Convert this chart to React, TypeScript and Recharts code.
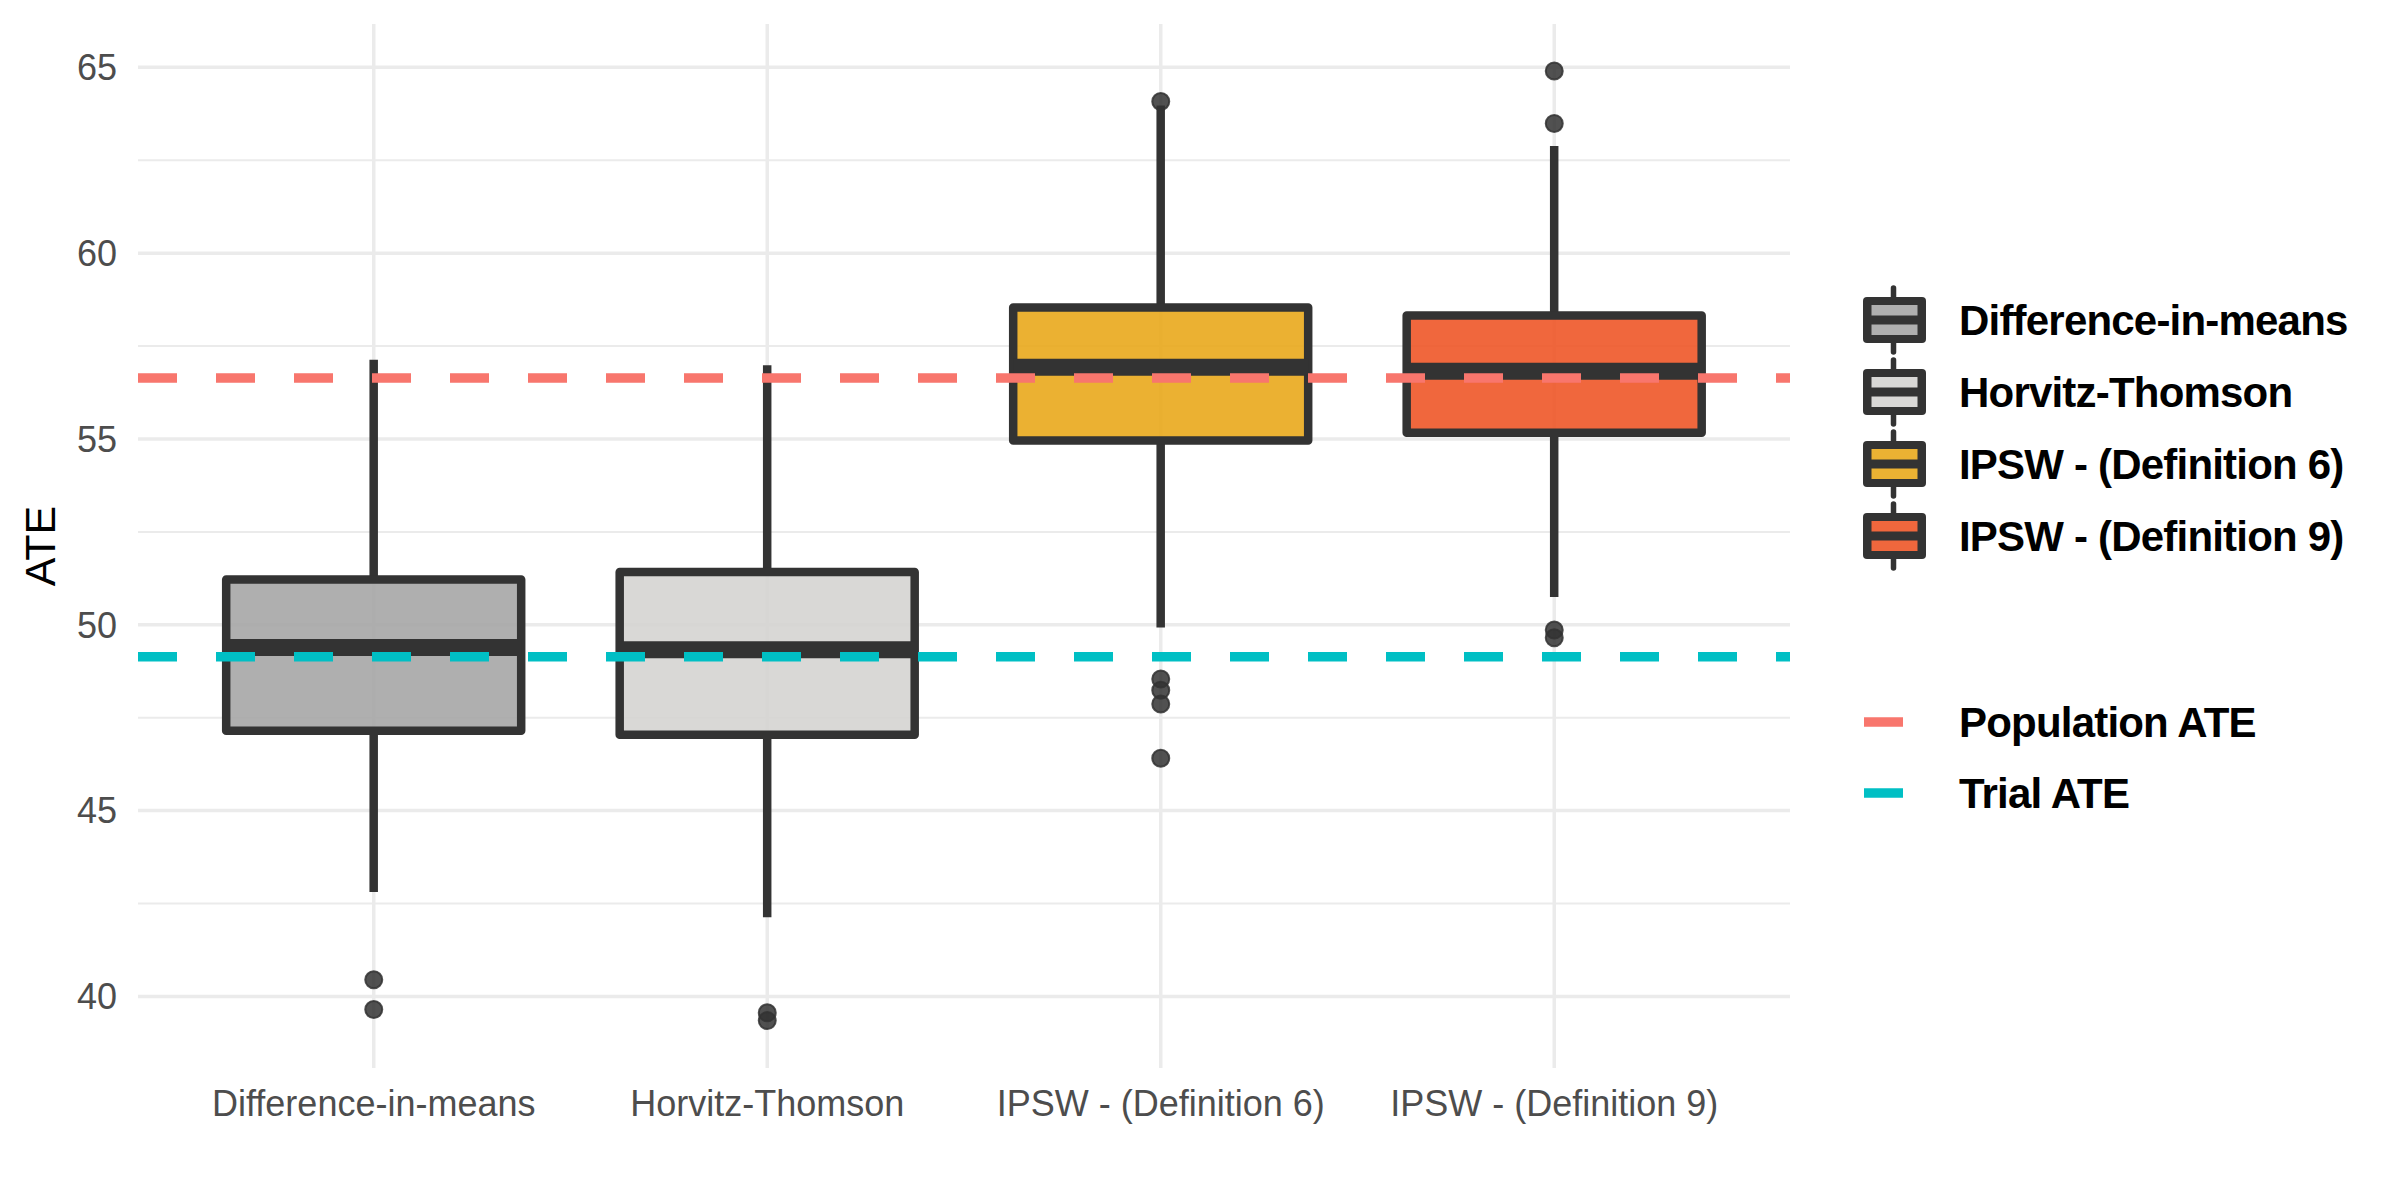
import React from 'react';
import {
  ComposedChart,
  Bar,
  Scatter,
  XAxis,
  YAxis,
  CartesianGrid,
  ReferenceLine,
  Legend,
} from 'recharts';

// ---------- data ----------
const categories = [
  'Difference-in-means',
  'Horvitz-Thomson',
  'IPSW - (Definition 6)',
  'IPSW - (Definition 9)',
];
const whiskerLow = [42.81, 42.13, 49.93, 50.75];
const q1Values = [47.15, 47.04, 54.96, 55.17];
const medianValues = [49.39, 49.33, 56.93, 56.82];
const q3Values = [51.22, 51.42, 58.54, 58.32];
const whiskerHigh = [57.13, 56.98, 63.97, 62.88];
const outlierValues = [
  [40.45, 39.65],
  [39.56, 39.35],
  [64.08, 48.54, 48.24, 47.87, 46.41],
  [64.9, 63.49, 49.86, 49.65],
];
const fillColors = ['#A6A6A6', '#D5D4D2', '#E9A91C', '#EE5628'];
const legendFillColors = ['#AFAFAF', '#D9D8D6', '#EBB233', '#F0673D'];
const populationATE = 56.64;
const trialATE = 49.14;
const yMajorTicks = [40, 45, 50, 55, 60, 65];
const yMinorTicks = [42.5, 47.5, 52.5, 57.5, 62.5];
const yDomain: [number, number] = [38.075, 66.165];
const refLines = [
  { label: 'Population ATE', color: '#F8766D', value: populationATE },
  { label: 'Trial ATE', color: '#00BFC4', value: trialATE },
];

const boxData = categories.map((name, i) => ({
  name,
  range: [whiskerLow[i], whiskerHigh[i]],
  lo: whiskerLow[i],
  q1: q1Values[i],
  med: medianValues[i],
  q3: q3Values[i],
  hi: whiskerHigh[i],
  fill: fillColors[i],
}));
const outlierData = categories.flatMap((name, i) =>
  outlierValues[i].map((v) => ({ name, v }))
);

const DARK = '#333333';
const FONT = '"Liberation Sans", Arial, Helvetica, sans-serif';

const BoxShape = (props: any) => {
  const { x, y, width, height, payload } = props;
  if (x == null || y == null || !payload) return null;
  const top = Math.min(y, y + height);
  const bottom = Math.max(y, y + height);
  const ppu = (bottom - top) / (payload.hi - payload.lo);
  const sy = (v: number) => top + (payload.hi - v) * ppu;
  const cx = x + width / 2;
  return (
    <g>
      <line x1={cx} x2={cx} y1={sy(payload.hi)} y2={sy(payload.q3)} stroke={DARK} strokeWidth={8.5} />
      <line x1={cx} x2={cx} y1={sy(payload.q1)} y2={sy(payload.lo)} stroke={DARK} strokeWidth={8.5} />
      <rect
        x={x}
        y={sy(payload.q3)}
        width={width}
        height={sy(payload.q1) - sy(payload.q3)}
        fill={payload.fill}
        fillOpacity={0.9}
        stroke={DARK}
        strokeWidth={8.5}
        strokeLinejoin="round"
      />
      <line x1={x} x2={x + width} y1={sy(payload.med)} y2={sy(payload.med)} stroke={DARK} strokeWidth={17} />
    </g>
  );
};

const OutlierShape = (props: any) => {
  const { cx, cy } = props;
  if (cx == null || cy == null) return null;
  return (
    <circle cx={cx} cy={cy} r={8.5} fill={DARK} fillOpacity={0.85} stroke={DARK} strokeOpacity={0.85} strokeWidth={2} />
  );
};

const LegendContent = () => {
  const boxRows = [60, 132, 204, 276];
  const lineRows = [462, 533];
  return (
    <svg width={550} height={580} style={{ display: 'block', overflow: 'visible' }}>
      {categories.map((c, i) => {
        const cy = boxRows[i];
        return (
          <g key={c}>
            <line x1={43.5} x2={43.5} y1={cy - 32} y2={cy - 20} stroke={DARK} strokeWidth={5.5} strokeLinecap="round" />
            <line x1={43.5} x2={43.5} y1={cy + 20} y2={cy + 32} stroke={DARK} strokeWidth={5.5} strokeLinecap="round" />
            <rect x={13} y={cy - 23} width={63} height={46} rx={4} fill={DARK} />
            <rect x={21.5} y={cy - 15} width={46} height={10.5} fill={legendFillColors[i]} />
            <rect x={21.5} y={cy + 4.5} width={46} height={10.5} fill={legendFillColors[i]} />
            <text x={109} y={cy + 15} fontSize={42} fontWeight="bold" letterSpacing={-0.8} fill="#000" fontFamily={FONT}>
              {c}
            </text>
          </g>
        );
      })}
      {refLines.map((r, i) => {
        const cy = lineRows[i];
        return (
          <g key={r.label}>
            <line x1={14} x2={53} y1={cy} y2={cy} stroke={r.color} strokeWidth={9.6} />
            <text x={109} y={cy + 15} fontSize={42} fontWeight="bold" letterSpacing={-0.8} fill="#000" fontFamily={FONT}>
              {r.label}
            </text>
          </g>
        );
      })}
    </svg>
  );
};

const AxisTitle = () => (
  <text
    x={55}
    y={546}
    transform="rotate(-90 55 546)"
    textAnchor="middle"
    fontSize={43}
    fill="#000"
    fontFamily={FONT}
  >
    ATE
  </text>
);

export default function App() {
  return (
    <div style={{ position: 'absolute', left: 0, top: 0, width: 2400, height: 1200, background: '#fff', fontFamily: FONT }}>
      <ComposedChart
        width={2400}
        height={1200}
        data={boxData}
        margin={{ top: 24, right: 610, bottom: 0, left: 0 }}
        barCategoryGap="12.5%"
      >
        <CartesianGrid stroke="#EBEBEB" strokeWidth={3.5} syncWithTicks />
        <CartesianGrid vertical={false} horizontalValues={yMinorTicks} stroke="#EBEBEB" strokeWidth={2} syncWithTicks />
        <XAxis
          dataKey="name"
          type="category"
          allowDuplicatedCategory={false}
          padding={{ left: 39, right: 39 }}
          height={132}
          tickLine={false}
          axisLine={false}
          tickSize={0}
          tickMargin={22}
          interval={0}
          tick={{ fontSize: 36, fill: '#4D4D4D', fontFamily: FONT }}
        />
        <YAxis
          type="number"
          domain={yDomain}
          allowDataOverflow
          ticks={yMajorTicks}
          width={138}
          tickLine={false}
          axisLine={false}
          tickSize={0}
          tickMargin={21}
          tick={{ fontSize: 36, fill: '#4D4D4D', fontFamily: FONT }}
          label={{ content: () => <AxisTitle /> }}
        />
        <Bar dataKey="range" shape={BoxShape} isAnimationActive={false} />
        <Scatter data={outlierData} dataKey="v" shape={OutlierShape} isAnimationActive={false} />
        {refLines.map((r) => (
          <ReferenceLine key={r.label} y={r.value} stroke={r.color} strokeWidth={9.5} strokeDasharray="39 39" />
        ))}
        <Legend
          layout="vertical"
          align="center"
          verticalAlign="middle"
          content={LegendContent}
          wrapperStyle={{ left: 1850, top: 260, width: 550, height: 580 }}
        />
      </ComposedChart>
    </div>
  );
}
